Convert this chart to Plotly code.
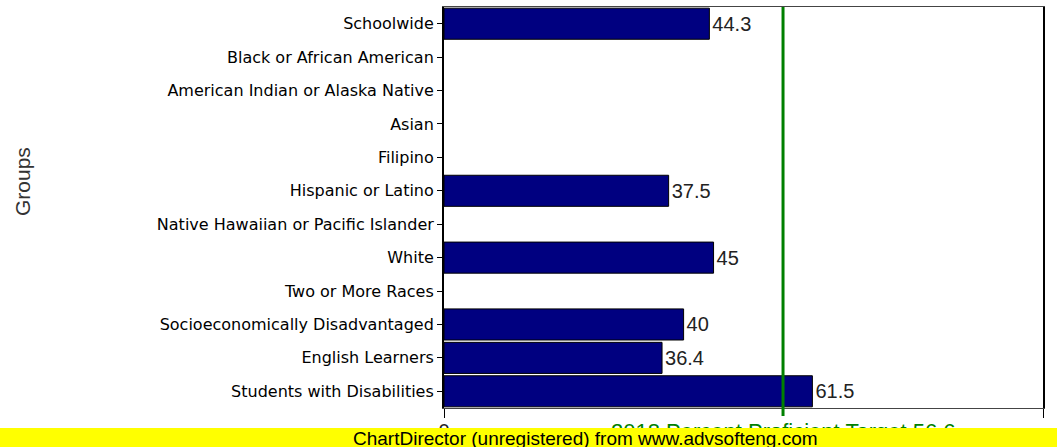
import plotly.graph_objects as go

categories = ["Schoolwide", "Black or African American", "American Indian or Alaska Native",
              "Asian", "Filipino", "Hispanic or Latino", "Native Hawaiian or Pacific Islander",
              "White", "Two or More Races", "Socioeconomically Disadvantaged",
              "English Learners", "Students with Disabilities"]
values = [44.3, None, None, None, None, 37.5, None, 45, None, 40, 36.4, 61.5]
value_labels = ["44.3", "", "", "", "", "37.5", "", "45", "", "40", "36.4", "61.5"]
target = 56.6
target_label = "2018 Percent Proficient Target 56.6"
x_ticks = [0, 100]

W, H = 1057, 447
L, R, T, B = 444, 14, 7, 39
pw, ph = W - L - R, H - T - B

def px(x):
    return (x - L) / pw

def py(y):
    return (H - B - y) / ph

fig = go.Figure()
fig.add_trace(go.Bar(
    y=categories, x=values, orientation="h",
    marker=dict(color="#000080", line=dict(color="#000000", width=1)),
    text=value_labels, textposition="outside", cliponaxis=False,
    textfont=dict(family="Liberation Sans, Arial", size=20, color="#222222"),
    hoverinfo="skip",
))

fig.add_shape(type="line", xref="x", yref="paper", x0=target, x1=target, y0=py(416), y1=1,
              line=dict(color="#008000", width=3), layer="above")
# target label (partly hidden behind the banner)
fig.add_annotation(x=target, xref="x", y=py(417), yref="paper", yanchor="top",
                   text=target_label, showarrow=False,
                   font=dict(family="Liberation Sans, Arial", size=22, color="#008000"))
# yellow banner box
fig.add_annotation(x=px(W / 2), xref="paper", y=py(437.5), yref="paper",
                   text=" ", showarrow=False, width=W + 40, height=19,
                   bgcolor="#ffff00", borderpad=0, borderwidth=0,
                   xanchor="center", yanchor="middle")
fig.add_annotation(x=px(585), xref="paper", y=py(438), yref="paper",
                   text="ChartDirector (unregistered) from www.advsofteng.com",
                   showarrow=False, yanchor="middle", xanchor="center",
                   font=dict(family="Liberation Sans, Arial", size=19, color="#000000"))
# y axis title
fig.add_annotation(x=px(22), xref="paper", y=py(182), yref="paper", text="Groups",
                   textangle=-90, showarrow=False, xanchor="center", yanchor="middle",
                   font=dict(family="Liberation Sans, Arial", size=21, color="#333333"))

fig.update_layout(
    width=W, height=H,
    margin=dict(l=L, r=R, t=T, b=B, autoexpand=False),
    paper_bgcolor="white", plot_bgcolor="white",
    showlegend=False, bargap=0.07,
    xaxis=dict(range=[0, 100], tickvals=x_ticks, ticks="outside", ticklen=9, tickcolor="#000",
               showgrid=False, zeroline=False, showline=True, linecolor="#444", linewidth=1,
               mirror=True, automargin=False, ticklabelstandoff=-4,
               tickfont=dict(family="Liberation Sans, Arial", size=20, color="#222")),
    yaxis=dict(categoryorder="array", categoryarray=categories, autorange="reversed",
               ticks="outside", ticklen=5, tickcolor="#000", showgrid=False, zeroline=False,
               showline=True, linecolor="#000", linewidth=2, mirror=True, automargin=False,
               tickfont=dict(family="DejaVu Sans", size=16, color="#000")),
)

fig.write_html("out.html", config={"displayModeBar": False},
               post_script="document.body.style.margin='0';")
